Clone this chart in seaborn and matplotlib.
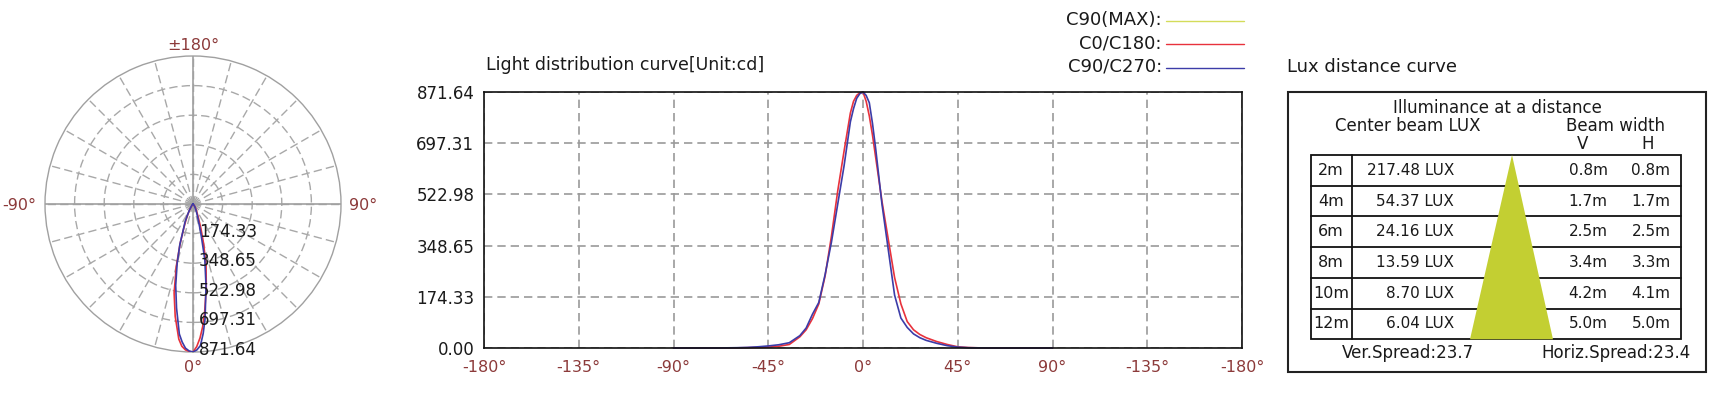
import numpy as np
import pandas as pd
import matplotlib
matplotlib.use("Agg")
import matplotlib.pyplot as plt
import seaborn as sns
from matplotlib.patches import Rectangle, Polygon
import matplotlib.transforms as mtransforms

# ---------------- data ----------------
angles = [-90, -80, -70, -60, -55, -50, -45, -40, -35, -30, -27, -24, -21, -18, -15,
          -12, -9, -6, -4.5, -3, -1.5, 0, 1.5, 3, 4.5, 6, 9, 12, 15, 18, 21, 24, 27, 30,
          35, 40, 45, 50, 55, 60, 70, 80, 90]
c0_c180 = [0, 0, 0, 0.5, 1, 2, 3, 6, 12, 38, 62, 100, 150, 245, 380,
           535, 670, 800, 840, 860, 869, 871.64, 840, 790, 725, 650, 500, 370, 240, 150,
           90, 62, 46, 35, 22, 12, 4, 1.5, 0.5, 0, 0, 0, 0]
c90_c270 = [0, 0, 0, 1, 2, 4, 7, 11, 18, 42, 68, 115, 155, 250, 360,
            490, 620, 770, 815, 850, 866, 871.64, 860, 835, 765, 680, 490, 335, 180, 102,
            70, 48, 35, 26, 16, 8, 3, 1, 0.5, 0, 0, 0, 0]

y_ticks = [0.00, 174.33, 348.65, 522.98, 697.31, 871.64]
x_ticks = [-180, -135, -90, -45, 0, 45, 90, 135, 180]
x_tick_labels = ["-180°", "-135°", "-90°", "-45°", "0°", "45°", "90°", "-135°", "-180°"]
legend_names = ["C90(MAX):", "C0/C180:", "C90/C270:"]

distances = ["2m", "4m", "6m", "8m", "10m", "12m"]
center_lux = [217.48, 54.37, 24.16, 13.59, 8.70, 6.04]
beam_v = [0.8, 1.7, 2.5, 3.4, 4.2, 5.0]
beam_h = [0.8, 1.7, 2.5, 3.3, 4.1, 5.0]
ver_spread = 23.7
horiz_spread = 23.4

# ---------------- style ----------------
sns.set_style("white")
plt.rcParams["font.family"] = ["DejaVu Sans"]
RED = "#e8323c"
BLUE = "#3c3ca8"
YG = "#c3cf32"
TICKRED = "#8c3a3a"
GRID = "#9a9a9a"
TXT = "#1a1a1a"
FS_TICK = 11.5
FS_NUM = 12
FS_TITLE = 12.5
FS_LEG = 13
FS_HEAD = 12
FS_ROW = 11

W, H = 1725, 400
fig = plt.figure(figsize=(W / 100, H / 100), dpi=100)

df = pd.DataFrame({"angle": angles, "C0/C180": c0_c180, "C90/C270": c90_c270})

# ---------------- polar plot ----------------
cx, cy, R = 193, 204, 148
axp = fig.add_axes([(cx - R) / W, (H - cy - R) / H, 2 * R / W, 2 * R / H], projection="polar")
axp.set_theta_zero_location("S")
axp.set_theta_direction(1)
axp.set_ylim(0, y_ticks[-1])
axp.set_rgrids(y_ticks[1:-1], labels=[])
axp.set_thetagrids(np.arange(0, 360, 15), labels=[])
axp.grid(True, color="#a8a8a8", linestyle=(0, (6, 3)), linewidth=1.0)
axp.spines["polar"].set_color("#a0a0a0")
axp.spines["polar"].set_linewidth(1.0)
for t in [0, np.pi / 2, np.pi, 3 * np.pi / 2]:
    axp.plot([t, t], [0, y_ticks[-1]], color="#a0a0a0", lw=1.2, zorder=2)
theta = np.deg2rad(df["angle"].values)
sns.lineplot(x=theta, y=df["C0/C180"].values, ax=axp, color=RED, lw=1.2, sort=False, estimator=None, zorder=4)
sns.lineplot(x=theta, y=df["C90/C270"].values, ax=axp, color=BLUE, lw=1.2, sort=False, estimator=None, zorder=4)
axp.set_xlabel(""); axp.set_ylabel("")
off = mtransforms.offset_copy(axp.transData, fig=fig, x=6, y=2, units="dots")
for v in y_ticks[1:]:
    axp.text(0, v, f"{v:.2f}", transform=off, ha="left", va="center", fontsize=FS_NUM, color=TXT, zorder=6)

# ---------------- cartesian curve ----------------
axc = fig.add_axes([484 / W, (H - 348) / H, 758 / W, 256 / H])
sns.lineplot(data=df, x="angle", y="C0/C180", ax=axc, color=RED, lw=1.2, clip_on=False)
sns.lineplot(data=df, x="angle", y="C90/C270", ax=axc, color=BLUE, lw=1.2, clip_on=False)
axc.set_xlim(-180, 180)
axc.set_ylim(0, y_ticks[-1])
axc.set_xticks(x_ticks)
axc.set_xticklabels(x_tick_labels, color=TICKRED, fontsize=FS_TICK)
axc.set_yticks(y_ticks)
axc.set_yticklabels([f"{v:.2f}" for v in y_ticks], color=TXT, fontsize=FS_NUM)
axc.tick_params(length=0, pad=7)
axc.tick_params(axis="x", pad=9)
axc.grid(True, color=GRID, linestyle=(0, (5, 3)), linewidth=1.2)
for s in axc.spines.values():
    s.set_color("#111111"); s.set_linewidth(1.2)
axc.set_xlabel(""); axc.set_ylabel("")

# ---------------- overlay (pixel coordinates) ----------------
ov = fig.add_axes([0, 0, 1, 1], zorder=10)
ov.set_xlim(0, W); ov.set_ylim(H, 0); ov.axis("off"); ov.patch.set_alpha(0)

# polar direction labels
ov.text(cx, 45, "±180°", ha="center", va="center", fontsize=FS_TICK, color=TICKRED)
ov.text(19, 205, "-90°", ha="center", va="center", fontsize=FS_TICK, color=TICKRED)
ov.text(363, 205, "90°", ha="center", va="center", fontsize=FS_TICK, color=TICKRED)
ov.text(cx, 368, "0°", ha="center", va="center", fontsize=FS_TICK, color=TICKRED)

# titles
ov.text(486, 65, "Light distribution curve[Unit:cd]", ha="left", va="center", fontsize=FS_TITLE, color=TXT)
ov.text(1287, 67, "Lux distance curve", ha="left", va="center", fontsize=FS_LEG, color=TXT)

# legend
leg_colors = ["#d4dc5a", RED, BLUE]
for i, (name, col) in enumerate(zip(legend_names, leg_colors)):
    yy = 20 + i * 23.3
    ov.text(1162, yy, name, ha="right", va="center", fontsize=FS_LEG, color=TXT)
    ov.plot([1166, 1244], [yy + 1, yy + 1], color=col, lw=1.0)

# table
ov.add_patch(Rectangle((1288, 92), 418, 280, fill=False, ec="#222222", lw=1.5))
ov.text(1497, 108, "Illuminance at a distance", ha="center", va="center", fontsize=FS_HEAD, color=TXT)
ov.text(1408, 126, "Center beam LUX", ha="center", va="center", fontsize=FS_HEAD, color=TXT)
ov.text(1616, 126, "Beam width", ha="center", va="center", fontsize=FS_HEAD, color=TXT)
ov.text(1583, 144, "V", ha="center", va="center", fontsize=FS_HEAD, color=TXT)
ov.text(1648, 144, "H", ha="center", va="center", fontsize=FS_HEAD, color=TXT)

tl, tr, tt, tb = 1311, 1681, 155, 339.3
rh = (tb - tt) / len(distances)
ov.add_patch(Rectangle((tl, tt), tr - tl, tb - tt, fill=False, ec="#111111", lw=1.3, zorder=1))
for k in range(1, len(distances)):
    ov.plot([tl, tr], [tt + k * rh] * 2, color="#111111", lw=1.3, zorder=1)
ov.plot([1352, 1352], [tt, tb], color="#111111", lw=1.3, zorder=1)
ov.add_patch(Polygon([(1512, tt), (1470, tb), (1553, tb)], closed=True, fc=YG, ec="none", zorder=2))
for k, (d, lx, v, h) in enumerate(zip(distances, center_lux, beam_v, beam_h)):
    yc = tt + (k + 0.5) * rh
    ov.text(1331, yc, d, ha="center", va="center", fontsize=FS_ROW + 0.5, color=TXT, zorder=3)
    ov.text(1454, yc, f"{lx:.2f} LUX", ha="right", va="center", fontsize=FS_ROW, color=TXT, zorder=3)
    ov.text(1588, yc, f"{v:.1f}m", ha="center", va="center", fontsize=FS_ROW, color=TXT, zorder=3)
    ov.text(1651, yc, f"{h:.1f}m", ha="center", va="center", fontsize=FS_ROW, color=TXT, zorder=3)
ov.text(1408, 353, f"Ver.Spread:{ver_spread}", ha="center", va="center", fontsize=FS_HEAD, color=TXT)
ov.text(1616, 353, f"Horiz.Spread:{horiz_spread}", ha="center", va="center", fontsize=FS_HEAD, color=TXT)

fig.savefig("out.png", dpi=100, facecolor="white")
